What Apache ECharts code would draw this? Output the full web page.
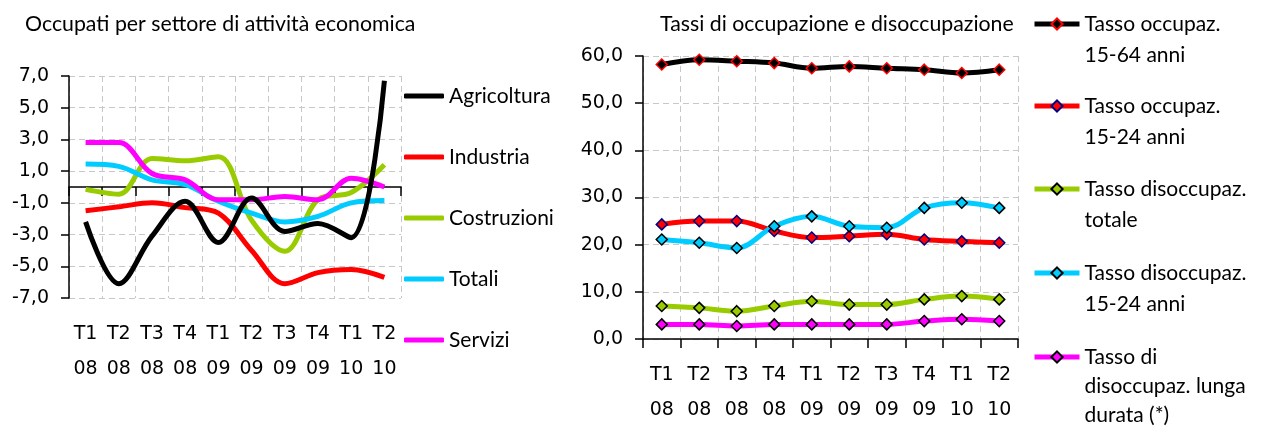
<!DOCTYPE html>
<html>
<head>
<meta charset="utf-8">
<script src="https://cdn.jsdelivr.net/npm/echarts@6/dist/echarts.min.js"></script>
<style>
  html, body { margin: 0; padding: 0; background: #fff; }
  #chart { width: 1261px; height: 432px; }
</style>
</head>
<body>
<div id="chart"></div>
<script>
// tick labels (quarter / year)
var quarters = ["T1", "T2", "T3", "T4", "T1", "T2", "T3", "T4", "T1", "T2"];
var years = ["08", "08", "08", "08", "09", "09", "09", "09", "10", "10"];

// left panel: occupati per settore (var. %)
var agricoltura = [-2.2, -6.1, -3.1, -0.9, -3.5, -0.7, -2.8, -2.3, -3.2, 6.7];
var industria = [-1.5, -1.25, -1.0, -1.3, -1.65, -4.0, -6.1, -5.4, -5.2, -5.7];
var costruzioni = [-0.15, -0.45, 1.8, 1.65, 1.9, -2.1, -4.05, -0.8, -0.35, 1.4];
var totali = [1.45, 1.3, 0.45, 0.15, -0.9, -1.65, -2.2, -1.85, -1.0, -0.85];
var servizi = [2.8, 2.8, 0.85, 0.45, -0.8, -0.8, -0.6, -0.8, 0.55, 0.0];

// right panel: tassi
var occ1564 = [58.2, 59.2, 58.9, 58.5, 57.4, 57.8, 57.4, 57.1, 56.4, 57.1];
var occ1524 = [24.3, 25.0, 25.0, 22.9, 21.5, 21.8, 22.2, 21.1, 20.7, 20.4];
var disTot = [7.0, 6.6, 5.9, 7.0, 8.0, 7.3, 7.3, 8.4, 9.1, 8.4];
var dis1524 = [21.1, 20.4, 19.3, 23.9, 26.0, 23.9, 23.6, 27.8, 28.9, 27.8];
var disLunga = [3.1, 3.1, 2.75, 3.1, 3.1, 3.1, 3.1, 3.8, 4.2, 3.8];

var categories = quarters.map(function (q, i) { return q + "\n" + years[i]; });

var labelFont = "'DejaVu Sans', Verdana, sans-serif";
var textFont = "Lato";
var gridLine = { show: true, lineStyle: { color: "#c8c8c8", type: [6, 4], width: 1 } };
var fmt = function (v) { return v.toFixed(1).replace(".", ","); };

var chartDom = document.getElementById("chart");
var myChart = echarts.init(chartDom, null, { renderer: "canvas" });

function leftLine(name, data, color, z) {
  return {
    name: name,
    type: "line",
    xAxisIndex: 0,
    yAxisIndex: 0,
    smooth: 0.35,
    symbol: "none",
    z: z,
    lineStyle: { color: color, width: 5 },
    itemStyle: { color: color },
    data: data,
  };
}

function rightLine(name, data, color, border) {
  return {
    name: name,
    type: "line",
    xAxisIndex: 2,
    yAxisIndex: 1,
    smooth: 0.35,
    symbol: "diamond",
    symbolSize: 11,
    lineStyle: { color: color, width: 5 },
    itemStyle: { color: color, borderColor: border, borderWidth: 1.5 },
    data: data,
  };
}

// right legend: one per entry so the icon sits on the first text line
var rightItems = [
  { name: "Tasso occupaz.\n15-64 anni", c: 24 },
  { name: "Tasso occupaz.\n15-24 anni", c: 106 },
  { name: "Tasso disoccupaz.\ntotale", c: 189 },
  { name: "Tasso disoccupaz.\n15-24 anni", c: 273 },
  { name: "Tasso di\ndisoccupaz. lunga\ndurata (*)", c: 357 },
];
var rightLegends = rightItems.map(function (it) {
  var lines = it.name.split("\n").length;
  var pad = lines - 1;
  var total = lines + pad;
  var lh = lines > 2 ? 29 : 31;
  return {
    data: [it.name],
    orient: "vertical",
    left: 1032,
    top: it.c - (total * lh) / 2,
    padding: 0,
    itemWidth: 45,
    itemHeight: 14,
    itemGap: 0,
    selectedMode: false,
    lineStyle: { width: 5 },
    formatter: function (n) { return new Array(pad + 1).join("\n") + n; },
    textStyle: { fontFamily: textFont, fontSize: 21, color: "#000", lineHeight: lh },
  };
});

var option = {
  animation: false,
  title: [
    { text: "Occupati per settore di attività economica", left: 25, top: 11, padding: 0,
      textStyle: { fontFamily: textFont, fontSize: 21.3, fontWeight: "normal", color: "#000", lineHeight: 26 } },
    { text: "Tassi di occupazione e disoccupazione", left: 660, top: 11, padding: 0,
      textStyle: { fontFamily: textFont, fontSize: 21.3, fontWeight: "normal", color: "#000", lineHeight: 26 } },
  ],
  legend: [
    {
      data: ["Agricoltura", "Industria", "Costruzioni", "Totali", "Servizi"],
      orient: "vertical",
      left: 404,
      top: 84,
      padding: 0,
      icon: "roundRect",
      itemWidth: 40,
      itemHeight: 5,
      itemGap: 37,
      selectedMode: false,
      textStyle: { fontFamily: textFont, fontSize: 21, color: "#000", lineHeight: 24 },
    },
  ].concat(rightLegends),
  grid: [
    { left: 69, top: 76, width: 332, height: 222 },
    { left: 643, top: 56, width: 375, height: 283 },
  ],
  xAxis: [
    {
      gridIndex: 0,
      type: "category",
      position: "bottom",
      data: categories,
      boundaryGap: true,
      axisLine: { show: false, onZero: false },
      axisTick: { show: false },
      splitLine: gridLine,
      axisLabel: { fontFamily: labelFont, fontSize: 19, color: "#000", lineHeight: 35, margin: 19, interval: 0 },
    },
    {
      gridIndex: 0,
      type: "category",
      position: "top",
      data: categories,
      boundaryGap: true,
      axisLine: { show: true, onZero: true, lineStyle: { color: "#000", width: 1.5 } },
      axisTick: { show: true, inside: true, length: 9, lineStyle: { color: "#000", width: 1.5 } },
      axisLabel: { show: false },
      splitLine: { show: false },
    },
    {
      gridIndex: 1,
      type: "category",
      data: categories,
      boundaryGap: true,
      axisLine: { lineStyle: { color: "#000", width: 1.5 } },
      axisTick: { show: true, length: 9, lineStyle: { color: "#000", width: 1.5 } },
      splitLine: gridLine,
      axisLabel: { fontFamily: labelFont, fontSize: 19, color: "#000", lineHeight: 35, margin: 19, interval: 0 },
    },
  ],
  yAxis: [
    {
      gridIndex: 0,
      type: "value",
      min: -7,
      max: 7,
      interval: 2,
      axisLine: { show: true, lineStyle: { color: "#000", width: 1.5 } },
      axisTick: { show: true, length: 8, lineStyle: { color: "#000", width: 1.5 } },
      splitLine: gridLine,
      axisLabel: { fontFamily: labelFont, fontSize: 19, color: "#000", margin: 20, formatter: fmt },
    },
    {
      gridIndex: 1,
      type: "value",
      min: 0,
      max: 60,
      interval: 10,
      axisLine: { show: true, lineStyle: { color: "#000", width: 1.5 } },
      axisTick: { show: true, length: 8, lineStyle: { color: "#000", width: 1.5 } },
      splitLine: gridLine,
      axisLabel: { fontFamily: labelFont, fontSize: 19, color: "#000", margin: 20, formatter: fmt },
    },
  ],
  series: [
    leftLine("Agricoltura", agricoltura, "#000000", 6),
    leftLine("Industria", industria, "#ff0000", 2),
    leftLine("Costruzioni", costruzioni, "#99cc00", 3),
    leftLine("Totali", totali, "#00ccff", 4),
    leftLine("Servizi", servizi, "#ff00ff", 5),
    rightLine(rightItems[0].name, occ1564, "#000000", "#ff0000"),
    rightLine(rightItems[1].name, occ1524, "#ff0000", "#000080"),
    rightLine(rightItems[2].name, disTot, "#99cc00", "#000000"),
    rightLine(rightItems[3].name, dis1524, "#00ccff", "#000000"),
    rightLine(rightItems[4].name, disLunga, "#ff00ff", "#000000"),
  ],
};

if (option && typeof option === "object") {
  myChart.setOption(option);
}
window.addEventListener("resize", myChart.resize);
</script>
</body>
</html>
